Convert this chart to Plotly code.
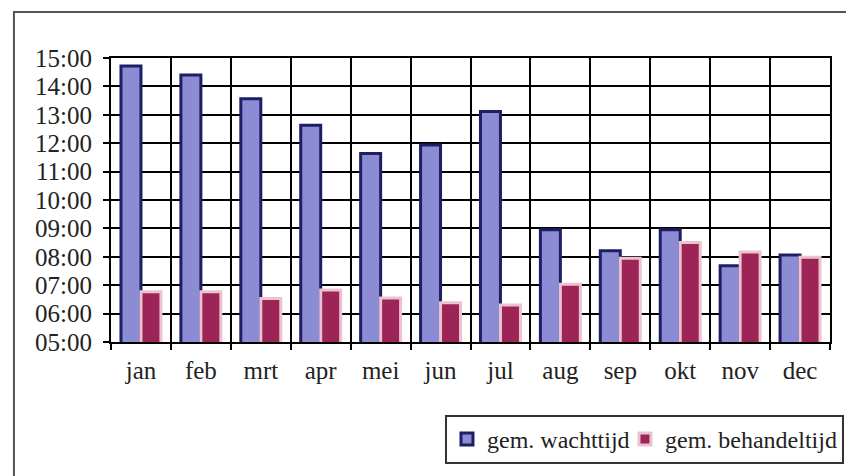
import plotly.graph_objects as go

# Average waiting time vs. average handling time per month (mm:ss)
maanden = ["jan", "feb", "mrt", "apr", "mei", "jun", "jul", "aug", "sep", "okt", "nov", "dec"]
wachttijd = ["14:43", "14:24", "13:34", "12:38", "11:38", "11:56", "13:07",
             "08:57", "08:13", "08:57", "07:41", "08:04"]
behandeltijd = ["06:46", "06:46", "06:32", "06:50", "06:33", "06:23", "06:18",
                "07:02", "07:57", "08:30", "08:10", "07:59"]
y_ticks = ["05:00", "06:00", "07:00", "08:00", "09:00", "10:00",
           "11:00", "12:00", "13:00", "14:00", "15:00"]


def to_min(t):
    m, s = t.split(":")
    return int(m) + int(s) / 60.0


tick_vals = [to_min(t) for t in y_ticks]
FONT = "Liberation Serif, Times New Roman, serif"

fig = go.Figure()
fig.add_trace(go.Bar(
    x=maanden, y=[to_min(v) for v in wachttijd], name="gem. wachttijd",
    marker=dict(color="#8c8cd4", line=dict(color="#1e1e64", width=3)),
    legendwidth=133,
))
fig.add_trace(go.Bar(
    x=maanden, y=[to_min(v) for v in behandeltijd], name="gem. behandeltijd",
    marker=dict(color="#9c2457", line=dict(color="#ebc3d0", width=3)),
))

fig.update_layout(
    width=846, height=476,
    margin=dict(l=111, r=16, t=58, b=134, autoexpand=False),
    paper_bgcolor="white", plot_bgcolor="white",
    barmode="group", bargap=0.333, bargroupgap=0,
    font=dict(family=FONT, size=25, color="#222"),
    showlegend=True,
    legend=dict(
        orientation="h", x=0.4645, y=-0.257, xanchor="left", yanchor="top",
        bordercolor="#333", borderwidth=2, bgcolor="white",
        font=dict(family=FONT, size=24, color="#222"),
        itemwidth=30, tracegroupgap=0,
    ),
    xaxis=dict(
        type="category", tickson="boundaries", ticks="outside", ticklen=6,
        tickcolor="black", tickwidth=2, automargin=False,
        showgrid=True, gridcolor="black", gridwidth=2,
        showline=True, linecolor="black", linewidth=2, mirror=True,
        ticklabelstandoff=5,
    ),
    yaxis=dict(
        range=[tick_vals[0], tick_vals[-1]], tickvals=tick_vals, ticktext=y_ticks,
        ticks="outside", ticklen=6, tickcolor="black", tickwidth=2, automargin=False,
        showgrid=True, gridcolor="black", gridwidth=2,
        showline=True, linecolor="black", linewidth=2, mirror=True,
        zeroline=False, ticklabelstandoff=6,
    ),
    shapes=[dict(
        type="rect", xref="paper", yref="paper",
        x0=-0.135, y0=-0.7, x1=1.2, y1=1.162,
        line=dict(color="#555", width=2), fillcolor="rgba(0,0,0,0)", layer="below",
    )],
)

fig.write_html("out.html")
